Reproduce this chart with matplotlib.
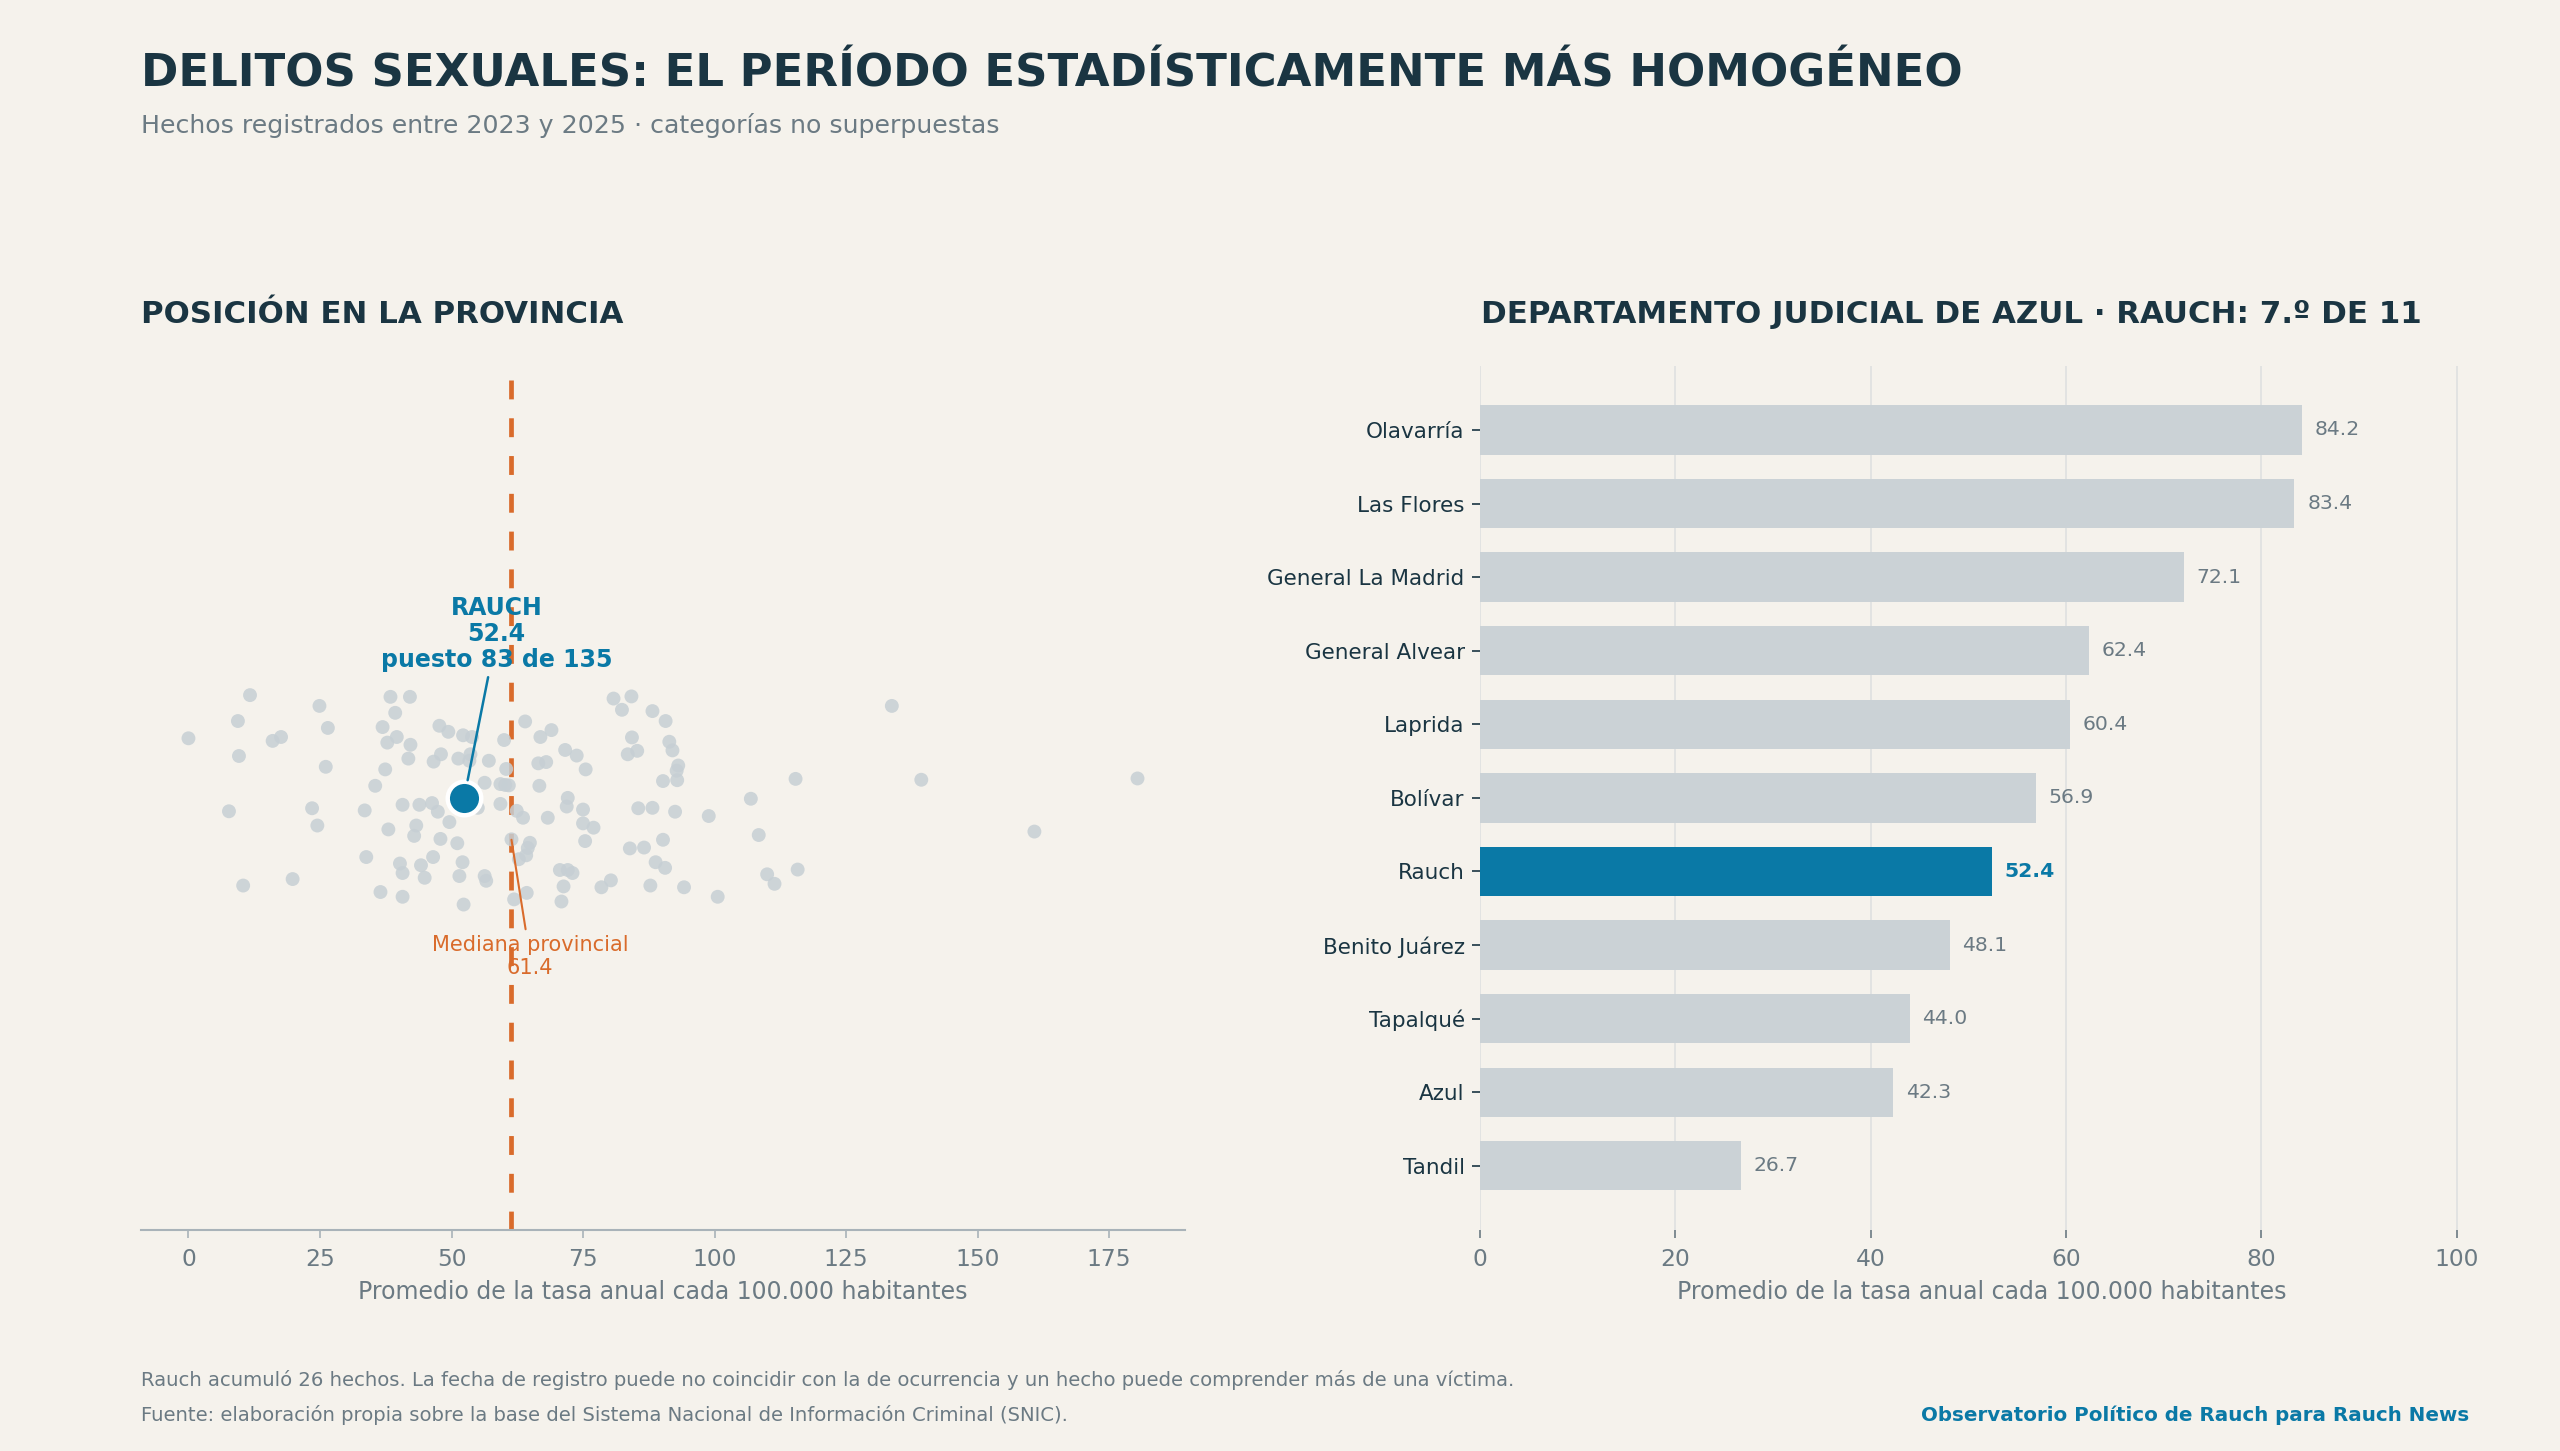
import numpy as np
import matplotlib
matplotlib.use("Agg")
import matplotlib.pyplot as plt

# ---------------- data ----------------
# strip plot: municipalities (value = average annual rate per 100k), jitter = vertical offset
prov_values = [
    0.0, 11.7, 9.4, 9.6, 16.0, 17.6, 7.7, 10.4, 19.8, 24.9,
    26.5, 26.1, 23.5, 24.5, 33.5, 33.8, 35.5, 37.4, 36.9, 37.8,
    39.6, 38.4, 42.1, 39.3, 42.2, 41.8, 38.0, 40.7, 43.9, 46.3,
    47.4, 43.3, 42.9, 47.9, 49.6, 51.1, 46.5, 40.2, 40.7, 44.2,
    44.9, 36.5, 40.7, 52.1, 51.5, 52.3, 47.7, 49.4, 52.2, 46.6,
    48.0, 51.3, 53.9, 53.6, 53.4, 56.3, 57.1, 56.3, 56.6, 55.0,
    59.3, 60.9, 60.2, 60.4, 60.0, 59.3, 61.4, 62.4, 63.6, 64.0,
    66.9, 69.0, 66.5, 68.0, 66.7, 71.6, 73.8, 75.5, 72.1, 71.9,
    75.0, 75.0, 77.0, 75.4, 68.3, 64.9, 64.5, 64.2, 62.8, 64.3,
    61.9, 70.6, 72.1, 73.0, 71.3, 70.9, 78.5, 80.3, 80.8, 84.2,
    82.4, 88.2, 90.7, 84.3, 83.5, 85.3, 91.4, 92.0, 93.1, 92.8,
    90.2, 92.9, 85.5, 88.2, 92.5, 98.9, 90.2, 83.9, 86.6, 88.8,
    90.6, 87.8, 94.2, 100.6, 106.9, 108.4, 115.4, 110.0, 111.4, 115.8,
    133.7, 139.3, 180.4, 160.8,
]
prov_jitter = [
    0.138, 0.238, 0.178, 0.097, 0.132, 0.141, -0.031, -0.203, -0.188, 0.213,
    0.162, 0.072, -0.024, -0.064, -0.029, -0.137, 0.028, 0.066, 0.164, 0.128,
    0.141, 0.234, 0.234, 0.197, 0.123, 0.091, -0.073, -0.016, -0.016, -0.012,
    -0.032, -0.064, -0.088, -0.095, -0.056, -0.105, -0.137, -0.152, -0.174, -0.156,
    -0.185, -0.218, -0.229, -0.149, -0.181, -0.247, 0.167, 0.153, 0.145, 0.084,
    0.101, 0.091, 0.141, 0.101, 0.086, 0.035, 0.086, -0.181, -0.192, -0.023,
    0.032, 0.029, 0.030, 0.067, 0.134, -0.014, -0.096, -0.030, -0.046, 0.177,
    0.141, 0.157, 0.080, 0.083, 0.028, 0.111, 0.098, 0.066, 0.000, -0.020,
    -0.027, -0.059, -0.069, -0.100, -0.046, -0.104, -0.116, -0.133, -0.142, -0.220,
    -0.235, -0.167, -0.167, -0.174, -0.205, -0.240, -0.207, -0.191, 0.230, 0.235,
    0.204, 0.201, 0.178, 0.140, 0.101, 0.109, 0.130, 0.110, 0.075, 0.063,
    0.039, 0.041, -0.024, -0.023, -0.032, -0.042, -0.097, -0.117, -0.115, -0.149,
    -0.162, -0.203, -0.207, -0.229, -0.002, -0.086, 0.044, -0.177, -0.199, -0.166,
    0.213, 0.042, 0.045, -0.078,
]
rauch_value = 52.4
rauch_rank = 83

dept_names = ["Olavarría", "Las Flores", "General La Madrid", "General Alvear", "Laprida",
              "Bolívar", "Rauch", "Benito Juárez", "Tapalqué", "Azul", "Tandil"]
dept_values = [84.2, 83.4, 72.1, 62.4, 60.4, 56.9, 52.4, 48.1, 44.0, 42.3, 26.7]
bar_ticks = [0, 20, 40, 60, 80, 100]
strip_ticks = [0, 25, 50, 75, 100, 125, 150, 175]

# ---------------- style ----------------
BG = "#f5f2ec"
DARK = "#1a3542"
GREY_TXT = "#6b7a83"
BLUE = "#0a79a6"
ORANGE = "#d96b2b"
DOT = "#c6cfd4"
BAR = "#cbd2d6"
SPINE = "#a9b3b9"
GRID = "#dfe1e1"

plt.rcParams["font.family"] = ["DejaVu Sans"]

fig = plt.figure(figsize=(25.6, 14.51), dpi=100, facecolor=BG)

# titles
fig.text(0.0551, 0.9407, "DELITOS SEXUALES: EL PERÍODO ESTADÍSTICAMENTE MÁS HOMOGÉNEO",
         fontsize=32.4, fontweight="bold", color=DARK, va="baseline", ha="left")
fig.text(0.0551, 0.9083, "Hechos registrados entre 2023 y 2025 · categorías no superpuestas",
         fontsize=18.2, color=GREY_TXT, va="baseline", ha="left")
fig.text(0.0551, 0.7772, "POSICIÓN EN LA PROVINCIA",
         fontsize=22.2, fontweight="bold", color=DARK, va="baseline", ha="left")
fig.text(0.5785, 0.7772, "DEPARTAMENTO JUDICIAL DE AZUL · RAUCH: 7.º DE 11",
         fontsize=22.2, fontweight="bold", color=DARK, va="baseline", ha="left")

# ---------------- left: strip ----------------
ax1 = fig.add_axes([0.05508, 0.15251, 0.4078, 0.5952])
ax1.set_facecolor(BG)
all_vals = np.array(prov_values + [rauch_value])
median = float(np.median(all_vals))

ax1.axvline(median, color=ORANGE, lw=3.4, dashes=(4, 4), zorder=1)
ax1.scatter(prov_values, prov_jitter, s=100, color=DOT, alpha=0.85,
            edgecolors="none", zorder=2)
ax1.scatter([rauch_value], [0], s=583, color=BLUE, edgecolors="white",
            linewidths=3.2, zorder=5)

ax1.annotate(f"RAUCH\n{rauch_value:.1f}\npuesto {rauch_rank} de {len(all_vals)}",
             xy=(rauch_value, 0), xytext=(58.6, 0.38), textcoords="data",
             ha="center", va="center", fontsize=17, fontweight="bold", color=BLUE,
             linespacing=1.1, zorder=6,
             arrowprops=dict(arrowstyle="-", color=BLUE, lw=1.8, shrinkA=2, shrinkB=13))
ax1.annotate(f"Mediana provincial\n{median:.1f}",
             xy=(median, -0.097), xytext=(64.9, -0.367), textcoords="data",
             ha="center", va="center", fontsize=15, color=ORANGE, zorder=6,
             arrowprops=dict(arrowstyle="-", color=ORANGE, lw=1.5, shrinkA=2, shrinkB=0))

ax1.set_ylim(-1, 1)
ax1.margins(x=0.05)
ax1.set_yticks([])
for s in ["left", "top", "right"]:
    ax1.spines[s].set_visible(False)
ax1.spines["bottom"].set_color(SPINE)
ax1.spines["bottom"].set_linewidth(1.5)
ax1.set_xticks(strip_ticks)
ax1.tick_params(axis="x", colors=SPINE, labelcolor=GREY_TXT, labelsize=16.8,
                length=6, width=1.2, pad=7)
ax1.set_xlabel("Promedio de la tasa anual cada 100.000 habitantes",
               fontsize=17, color=GREY_TXT, labelpad=7)

# ---------------- right: bars ----------------
ax2 = fig.add_axes([0.5781, 0.15251, 0.3918, 0.5952])
ax2.set_facecolor(BG)
ypos = np.arange(len(dept_names))[::-1]
colors = [BLUE if n == "Rauch" else BAR for n in dept_names]
ax2.barh(ypos, dept_values, height=0.67, color=colors, zorder=3)
for y, v, n in zip(ypos, dept_values, dept_names):
    if n == "Rauch":
        ax2.text(v + 1.3, y, f"{v:.1f}", va="center", ha="left", fontsize=14.7,
                 fontweight="bold", color=BLUE, zorder=4)
    else:
        ax2.text(v + 1.3, y, f"{v:.1f}", va="center", ha="left", fontsize=14.7,
                 color=GREY_TXT, zorder=4)
ax2.set_yticks(ypos)
ax2.set_yticklabels(dept_names)
ax2.set_xlim(0, 102.7)
ax2.set_xticks(bar_ticks)
ax2.grid(axis="x", color=GRID, lw=1.2, zorder=0)
ax2.set_axisbelow(True)
for s in ["left", "top", "right", "bottom"]:
    ax2.spines[s].set_visible(False)
ax2.tick_params(axis="y", colors=DARK, labelcolor=DARK, labelsize=15.5,
                length=6, width=1.2, pad=5)
ax2.tick_params(axis="x", colors=GREY_TXT, labelcolor=GREY_TXT, labelsize=16.8,
                length=6, width=1.2, pad=7)
ax2.set_xlabel("Promedio de la tasa anual cada 100.000 habitantes",
               fontsize=17, color=GREY_TXT, labelpad=7)

# ---------------- footer ----------------
fig.text(0.0551, 0.04501,
         "Rauch acumuló 26 hechos. La fecha de registro puede no coincidir con la de ocurrencia y un hecho puede comprender más de una víctima.",
         fontsize=14.1, color=GREY_TXT, va="baseline", ha="left")
fig.text(0.0551, 0.02088,
         "Fuente: elaboración propia sobre la base del Sistema Nacional de Información Criminal (SNIC).",
         fontsize=14.1, color=GREY_TXT, va="baseline", ha="left")
fig.text(0.9645, 0.02088, "Observatorio Político de Rauch para Rauch News",
         fontsize=14.3, fontweight="bold", color=BLUE, va="baseline", ha="right")

fig.savefig("out.png", dpi=100, facecolor=BG)
